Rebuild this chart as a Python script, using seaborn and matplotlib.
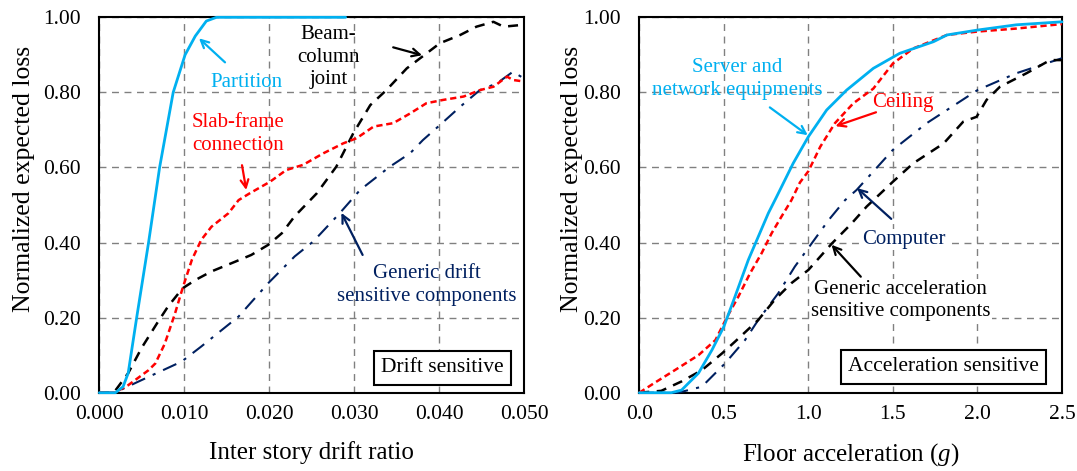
import matplotlib
matplotlib.use("Agg")
import matplotlib.pyplot as plt
import seaborn as sns

# --- Drift sensitive (left) ---
part_x = [0.0, 0.0019, 0.0028, 0.0034, 0.0044, 0.0058, 0.0071, 0.0087, 0.0101, 0.0113, 0.0126, 0.0138, 0.029]
part_y = [0.0, 0.0, 0.016, 0.052, 0.2, 0.4, 0.6, 0.8, 0.9, 0.95, 0.99, 1.0, 1.0]

beam_x = [0.0, 0.0017, 0.0034, 0.0050, 0.0068, 0.0081, 0.0098, 0.0113, 0.0132, 0.0160, 0.0179, 0.0199,
          0.0215, 0.0230, 0.0256, 0.0279, 0.0299, 0.0319, 0.0338, 0.0362, 0.0383, 0.0401, 0.0425,
          0.0444, 0.0464, 0.0476, 0.0499]
beam_y = [0.0, 0.0, 0.052, 0.12, 0.185, 0.23, 0.278, 0.30, 0.323, 0.349, 0.367, 0.394,
          0.425, 0.47, 0.531, 0.602, 0.691, 0.766, 0.806, 0.864, 0.90, 0.931, 0.953,
          0.975, 0.988, 0.975, 0.98]

slab_x = [0.0, 0.0018, 0.0034, 0.0058, 0.0066, 0.0077, 0.0089, 0.0098, 0.0109, 0.0120, 0.0132, 0.0152,
          0.0164, 0.0177, 0.0201, 0.0220, 0.0240, 0.0264, 0.0287, 0.0303, 0.0323, 0.0346, 0.0366,
          0.0385, 0.0405, 0.0429, 0.0448, 0.0464, 0.0480, 0.0487, 0.0500]
slab_y = [0.0, 0.0, 0.02, 0.06, 0.078, 0.13, 0.21, 0.278, 0.354, 0.407, 0.442, 0.478,
          0.513, 0.531, 0.562, 0.593, 0.607, 0.638, 0.664, 0.678, 0.709, 0.718, 0.744,
          0.771, 0.78, 0.789, 0.806, 0.815, 0.842, 0.833, 0.829]

gdrift_x = [0.0, 0.0018, 0.0054, 0.0097, 0.0120, 0.0164, 0.0199, 0.0230, 0.0252, 0.0283, 0.0307,
            0.0342, 0.0366, 0.0381, 0.0401, 0.0425, 0.0448, 0.0468, 0.0487, 0.0500]
gdrift_y = [0.0, 0.0, 0.038, 0.083, 0.123, 0.203, 0.292, 0.363, 0.403, 0.478, 0.540,
            0.602, 0.638, 0.673, 0.713, 0.762, 0.806, 0.824, 0.855, 0.837]

# --- Acceleration sensitive (right) ---
server_x = [0.0, 0.19, 0.25, 0.35, 0.43, 0.50, 0.566, 0.645, 0.704, 0.763, 0.81, 0.91, 1.0, 1.108,
            1.226, 1.384, 1.54, 1.74, 1.82, 2.0, 2.23, 2.5]
server_y = [0.0, 0.0, 0.007, 0.052, 0.114, 0.176, 0.256, 0.354, 0.416, 0.478, 0.52, 0.611, 0.682,
            0.753, 0.806, 0.864, 0.904, 0.935, 0.953, 0.966, 0.98, 0.988]

ceil_x = [0.0, 0.093, 0.21, 0.35, 0.45, 0.517, 0.586, 0.655, 0.724, 0.783, 0.842, 0.90, 0.95, 1.0,
          1.07, 1.157, 1.266, 1.384, 1.50, 1.62, 1.82, 2.0, 2.23, 2.5]
ceil_y = [0.0, 0.027, 0.06, 0.10, 0.14, 0.20, 0.256, 0.318, 0.372, 0.425, 0.47, 0.513, 0.56, 0.59,
          0.655, 0.718, 0.771, 0.81, 0.877, 0.917, 0.953, 0.962, 0.97, 0.982]

gacc_x = [0.0, 0.13, 0.25, 0.37, 0.49, 0.566, 0.704, 0.80, 0.90, 1.0, 1.14, 1.256, 1.345, 1.50,
          1.62, 1.80, 1.916, 1.995, 2.054, 2.133, 2.29, 2.43, 2.5]
gacc_y = [0.0, 0.005, 0.03, 0.06, 0.105, 0.136, 0.194, 0.247, 0.292, 0.327, 0.398, 0.451, 0.496,
          0.562, 0.611, 0.664, 0.722, 0.735, 0.78, 0.815, 0.851, 0.886, 0.886]

comp_x = [0.0, 0.23, 0.37, 0.507, 0.625, 0.704, 0.822, 0.92, 1.02, 1.12, 1.217, 1.285, 1.50, 1.70,
          2.0, 2.23, 2.5]
comp_y = [0.0, 0.0, 0.016, 0.078, 0.14, 0.194, 0.265, 0.336, 0.398, 0.46, 0.513, 0.54, 0.647, 0.718,
          0.806, 0.851, 0.891]

CYAN = "#00B0F0"
RED = "#FF0000"
NAVY = "#002060"
BLACK = "#000000"

sns.set_theme(style="white")
plt.rcParams["font.family"] = ["Liberation Serif", "DejaVu Serif"]
plt.rcParams["mathtext.fontset"] = "custom"
plt.rcParams["mathtext.it"] = "Liberation Serif:italic"
plt.rcParams["mathtext.rm"] = "Liberation Serif"

fig = plt.figure(figsize=(10.77, 4.71), dpi=100)
ax1 = fig.add_axes([99.3 / 1077, 78.3 / 471, 424.7 / 1077, 375.4 / 471])
ax2 = fig.add_axes([639.3 / 1077, 78.3 / 471, 422.7 / 1077, 375.4 / 471])

FS = 15


def draw(ax, x, y, color, ls, lw):
    sns.lineplot(x=x, y=y, ax=ax, color=color, linestyle=ls, linewidth=lw,
                 estimator=None, sort=False, clip_on=False, zorder=3)


draw(ax1, gdrift_x, gdrift_y, NAVY, (0, (7, 4, 1.5, 4)), 1.5)
draw(ax1, beam_x, beam_y, BLACK, (0, (4, 3)), 1.8)
draw(ax1, slab_x, slab_y, RED, (0, (2.5, 1.5)), 1.8)
draw(ax1, part_x, part_y, CYAN, "-", 2.0)

draw(ax2, comp_x, comp_y, NAVY, (0, (7, 4, 1.5, 4)), 1.5)
draw(ax2, gacc_x, gacc_y, BLACK, (0, (4, 3)), 1.8)
draw(ax2, ceil_x, ceil_y, RED, (0, (2.5, 1.5)), 1.8)
draw(ax2, server_x, server_y, CYAN, "-", 2.0)

ax1.set_xlim(0, 0.05)
ax1.set_xticks([0.0, 0.01, 0.02, 0.03, 0.04, 0.05])
ax1.set_xticklabels(["0.000", "0.010", "0.020", "0.030", "0.040", "0.050"])
ax2.set_xlim(0, 2.5)
ax2.set_xticks([0.0, 0.5, 1.0, 1.5, 2.0, 2.5])
ax2.set_xticklabels(["0.0", "0.5", "1.0", "1.5", "2.0", "2.5"])

for ax in (ax1, ax2):
    ax.set_ylim(0, 1.0)
    ax.set_yticks([0.0, 0.2, 0.4, 0.6, 0.8, 1.0])
    ax.set_yticklabels(["0.00", "0.20", "0.40", "0.60", "0.80", "1.00"])
    ax.grid(True, color="#808080", linestyle=(0, (5, 4)), linewidth=1.0)
    ax.tick_params(axis="both", length=0, labelsize=15.5, colors="black")
    ax.tick_params(axis="y", pad=13)
    ax.tick_params(axis="x", pad=9)
    for s in ax.spines.values():
        s.set_color("black")
        s.set_linewidth(1.5)
    ax.set_ylabel("Normalized expected loss", fontsize=18.5, color="black")

ax1.yaxis.set_label_coords(-0.152, 0.57)
ax2.yaxis.set_label_coords(-0.134, 0.57)
ax1.set_xlabel("Inter story drift ratio", fontsize=18, color="black")
ax2.set_xlabel("Floor acceleration ($\\mathit{g}$)", fontsize=18, color="black")
ax1.xaxis.set_label_coords(0.5, -0.128)
ax2.xaxis.set_label_coords(0.5, -0.128)

arw = dict(arrowstyle="->", lw=1.6, mutation_scale=14, shrinkA=0, shrinkB=0)
LS = 1.25

# left annotations
ax1.text(0.0173, 0.827, "Partition", color=CYAN, fontsize=FS, ha="center", va="center")
ax1.annotate("", xy=(0.01174, 0.944), xytext=(0.0148, 0.88), arrowprops=dict(arw, color=CYAN))
ax1.text(0.0270, 0.894, "Beam-\ncolumn\njoint", color=BLACK, fontsize=FS, ha="center", va="center",
         linespacing=LS)
ax1.annotate("", xy=(0.0380, 0.899), xytext=(0.0346, 0.92), arrowprops=dict(arw, color=BLACK))
ax1.text(0.0109, 0.689, "Slab-frame\nconnection", color=RED, fontsize=FS, ha="left", va="center",
         linespacing=LS)
ax1.annotate("", xy=(0.0173, 0.54), xytext=(0.0168, 0.606), arrowprops=dict(arw, color=RED))
ax1.text(0.0386, 0.287, "Generic drift\nsensitive components", color=NAVY, fontsize=FS, ha="center",
         va="center", linespacing=LS)
ax1.annotate("", xy=(0.0285, 0.479), xytext=(0.0310, 0.367), arrowprops=dict(arw, color=NAVY))
ax1.text(0.0404, 0.066, "Drift sensitive", color=BLACK, fontsize=FS + 0.5, ha="center", va="center",
         bbox=dict(boxstyle="square,pad=0.35", fc="white", ec="black", lw=1.5))

# right annotations
ax2.text(0.578, 0.835, "Server and\nnetwork equipments", color=CYAN, fontsize=FS, ha="center",
         va="center", linespacing=LS)
ax2.annotate("", xy=(0.996, 0.686), xytext=(0.772, 0.76), arrowprops=dict(arw, color=CYAN))
ax2.text(1.56, 0.774, "Ceiling", color=RED, fontsize=FS, ha="center", va="center")
ax2.annotate("", xy=(1.16, 0.71), xytext=(1.40, 0.747), arrowprops=dict(arw, color=RED))
ax2.text(1.565, 0.407, "Computer", color=NAVY, fontsize=FS, ha="center", va="center",
         bbox=dict(boxstyle="square,pad=0.05", fc="white", ec="none"))
ax2.annotate("", xy=(1.288, 0.545), xytext=(1.49, 0.463), arrowprops=dict(arw, color=NAVY))
ax2.text(1.547, 0.245, "Generic acceleration\nsensitive components", color=BLACK, fontsize=FS,
         ha="center", va="center", linespacing=LS,
         bbox=dict(boxstyle="square,pad=0.05", fc="white", ec="none"))
ax2.annotate("", xy=(1.137, 0.394), xytext=(1.31, 0.309), arrowprops=dict(arw, color=BLACK))
ax2.text(1.799, 0.069, "Acceleration sensitive", color=BLACK, fontsize=FS + 0.5, ha="center",
         va="center", bbox=dict(boxstyle="square,pad=0.35", fc="white", ec="black", lw=1.5))

fig.savefig("out.png", dpi=100)
